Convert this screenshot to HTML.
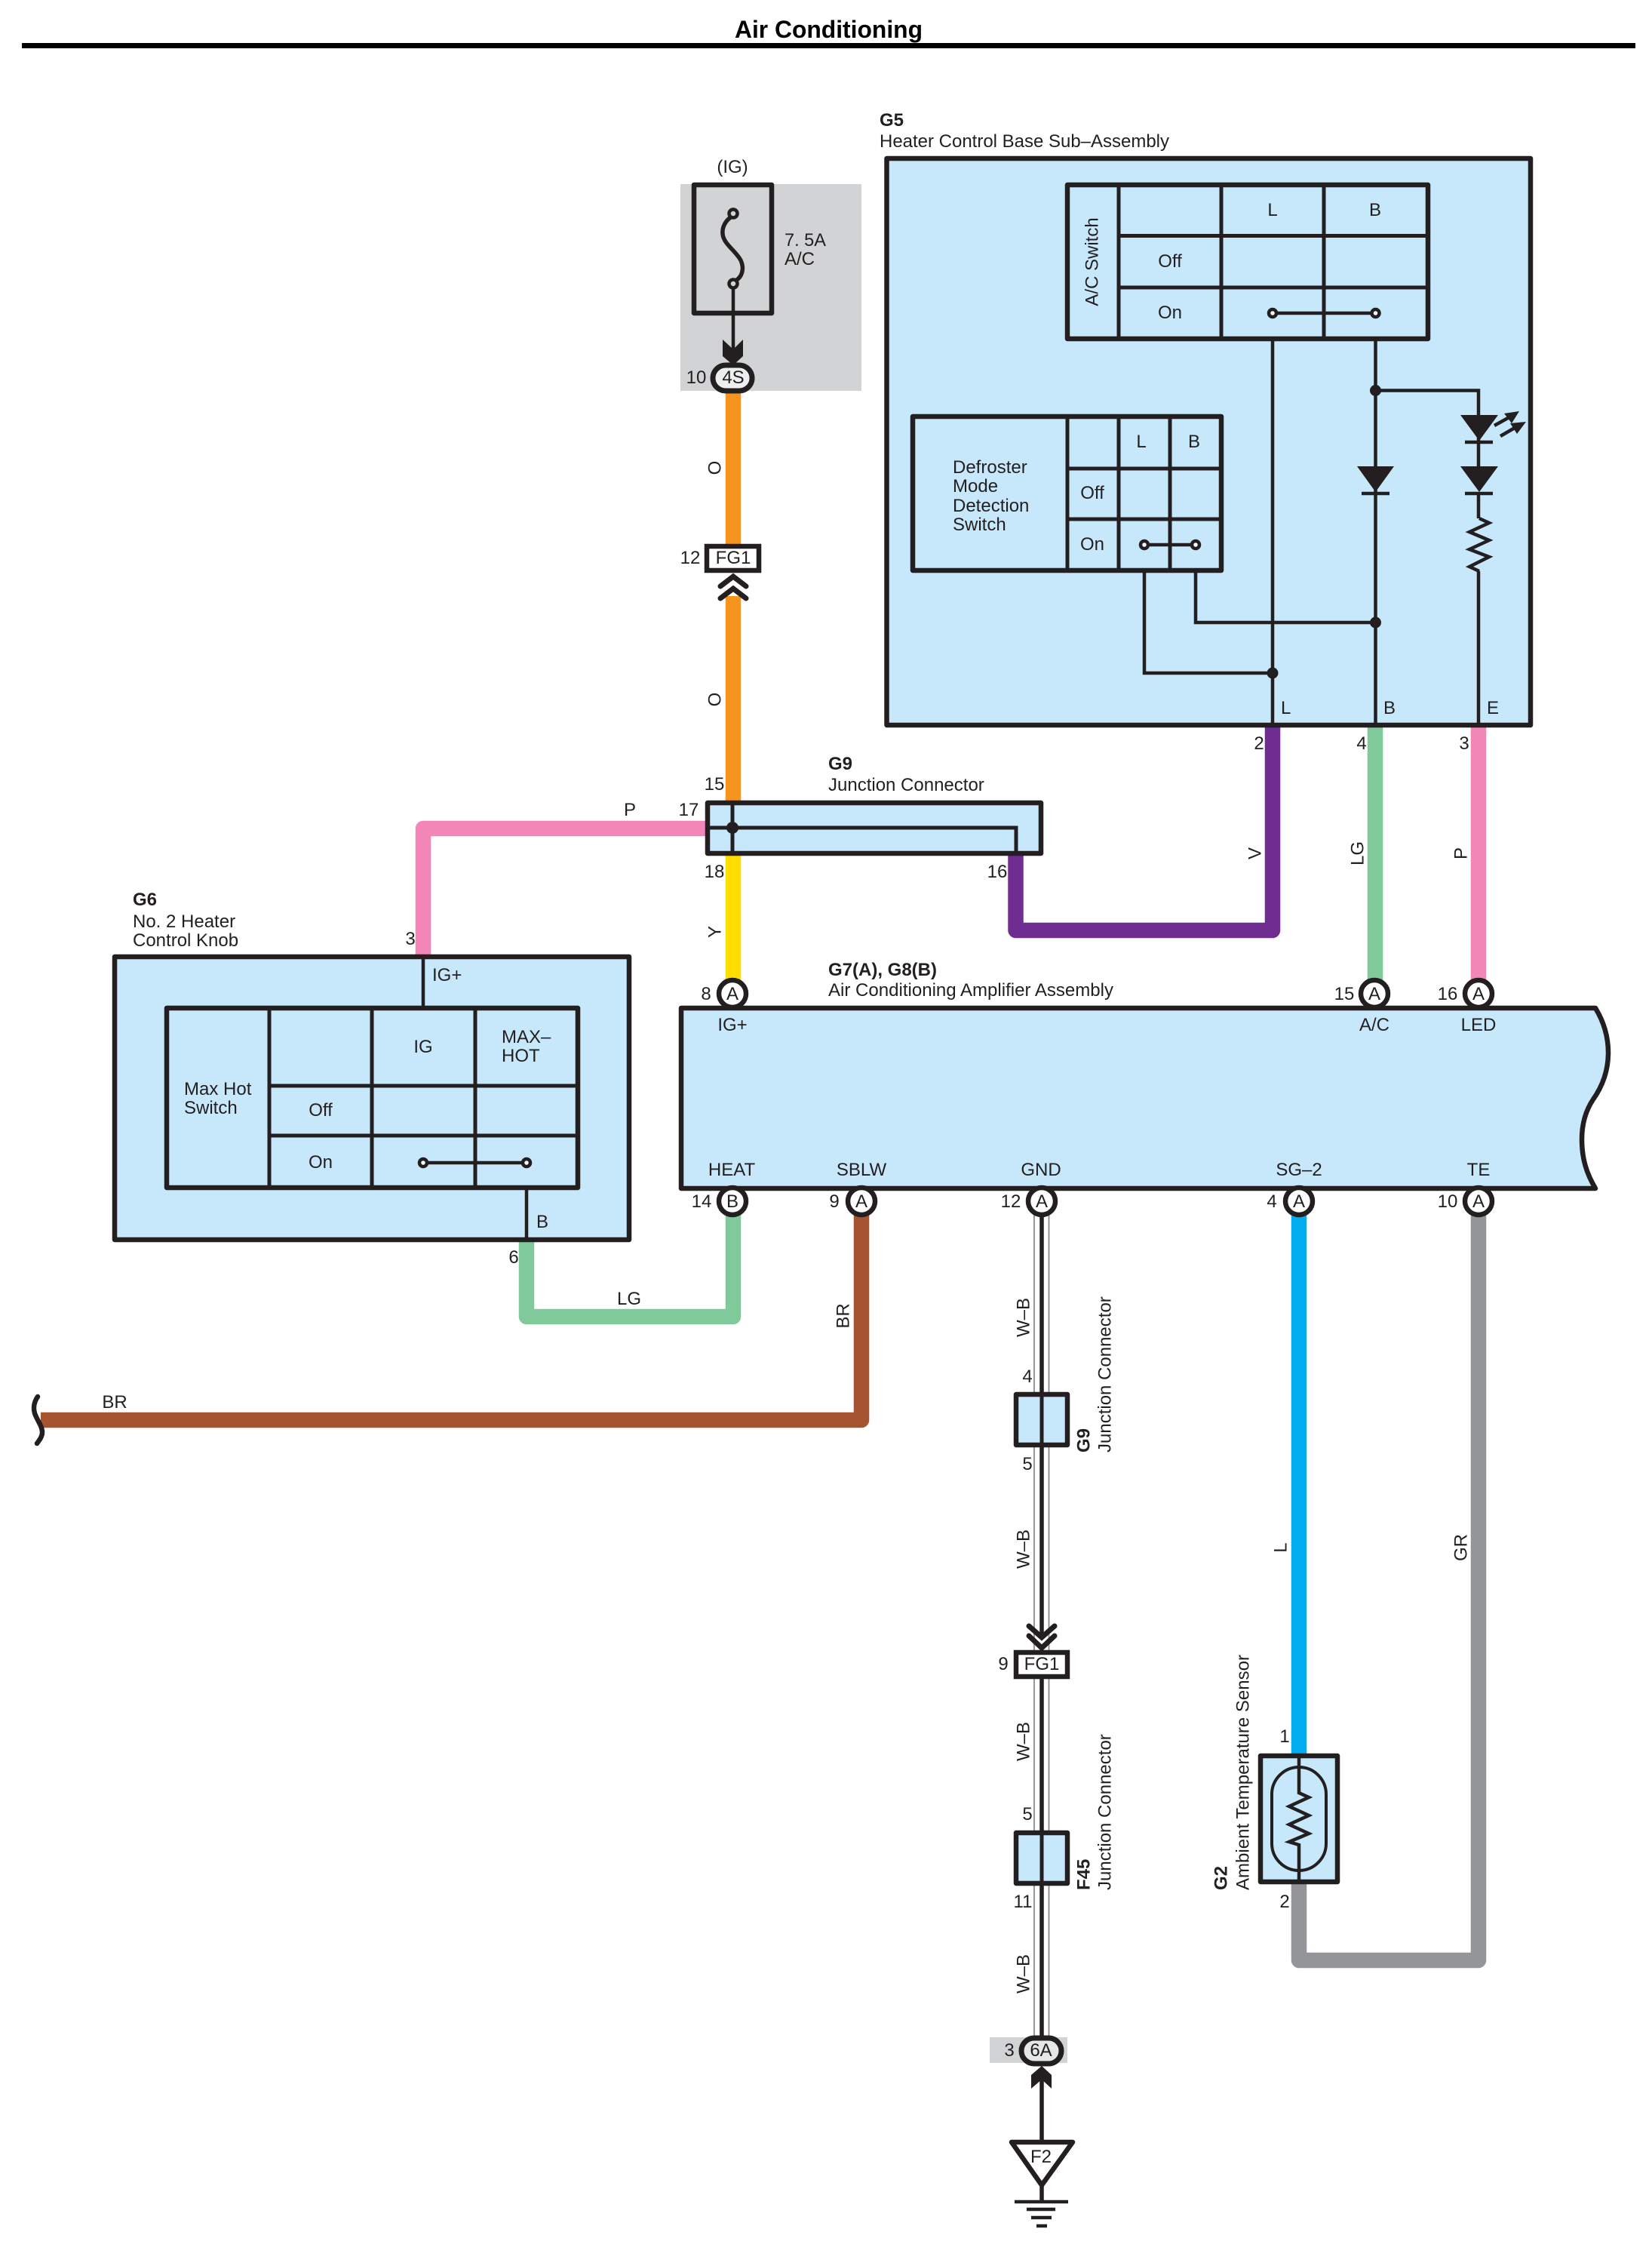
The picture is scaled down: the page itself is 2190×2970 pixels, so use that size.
<!DOCTYPE html>
<html><head><meta charset="utf-8"><title>Air Conditioning</title>
<style>
html,body{margin:0;padding:0;background:#fff}
svg{display:block}
text{font-family:"Liberation Sans",sans-serif;font-size:24px;fill:#231F20}
.b{font-weight:bold}
.m{text-anchor:middle}
.box{fill:#C7E8FB;stroke:#231F20;stroke-width:6.5;stroke-linejoin:round}
.in{fill:none;stroke:#231F20;stroke-width:5}
.th{fill:none;stroke:#231F20;stroke-width:4.5}
.w{fill:none;stroke-width:20.5;stroke-linejoin:round}
.con{fill:#fff;stroke:#231F20;stroke-width:6.5}
.ck{fill:none;stroke:#231F20;stroke-width:7;stroke-linecap:round;stroke-linejoin:miter}
.dot{fill:#231F20}
.sw{fill:#fff;stroke:#231F20;stroke-width:4.5}
</style></head><body>
<svg xmlns="http://www.w3.org/2000/svg" width="2190" height="2970" viewBox="0 0 2190 2970">
<rect width="2190" height="2970" fill="#fff"/>
<!-- title -->
<rect x="29" y="57" width="2139" height="7" fill="#000"/>
<text class="b" x="974" y="50" style="font-size:32px;fill:#000" textLength="249" lengthAdjust="spacingAndGlyphs">Air Conditioning</text>

<!-- fuse area -->
<rect x="902" y="244" width="240" height="274" fill="#D1D3D4"/>

<!-- coloured wires -->
<path class="w" stroke="#F7941E" d="M972 515V722M972 790V1064"/>
<path class="w" stroke="#FFDD00" d="M972 1131V1300"/>
<path class="w" stroke="#F287B7" d="M561 1268V1098H938"/>
<path class="w" stroke="#6F2C91" d="M1346.5 1131V1233H1687V958"/>
<path class="w" stroke="#80C99B" d="M1823 958V1300"/>
<path class="w" stroke="#F287B7" d="M1960 958V1300"/>
<path class="w" stroke="#80C99B" d="M698 1643V1745H972V1610"/>
<path class="w" stroke="#A6542F" d="M1142 1610V1882H54"/>
<path class="w" stroke="#00AEEF" d="M1722 1610V2326"/>
<path class="w" stroke="#939598" d="M1722 2495V2598H1960V1610"/>

<!-- W-B wire -->
<path fill="none" stroke="#8a8c8e" stroke-width="1.8" d="M1371 1610V2700M1390.5 1610V2700"/>
<path fill="none" stroke="#231F20" stroke-width="5.5" d="M1381 1610V2170M1381 2225V2700"/>

<!-- G5 -->
<rect class="box" x="1175.5" y="210" width="853.5" height="751"/>
<rect class="box" x="1415" y="245" width="478" height="204"/>
<path class="in" d="M1483 245V449M1619 245V449M1755 245V449M1483 312.5H1892M1483 381H1892"/>
<rect class="box" x="1210" y="552" width="409" height="204"/>
<path class="in" d="M1415 552V756M1483 552V756M1551 552V756M1415 621H1619M1415 688H1619"/>
<path class="th" d="M1687 415H1823M1517 722H1585"/>
<path class="th" d="M1687 449V961M1823.5 449V961M1823.5 517.5H1960V618M1960 583V618M1960 652V687M1517 756V892H1687M1585 756V825H1823M1960 757V961"/>
<circle class="dot" cx="1823.5" cy="517.5" r="7.5"/>
<circle class="dot" cx="1823.5" cy="825" r="7.5"/>
<circle class="dot" cx="1687" cy="892" r="7.5"/>
<circle class="sw" cx="1687" cy="415" r="5"/><circle class="sw" cx="1823.5" cy="415" r="5"/>
<circle class="sw" cx="1517" cy="722" r="5"/><circle class="sw" cx="1585" cy="722" r="5"/>
<!-- diodes -->
<path class="dot" d="M1799 618H1848L1823.5 652Z"/>
<path fill="none" stroke="#231F20" stroke-width="4.5" d="M1805 654H1842"/>
<path class="dot" d="M1936 550H1986L1961 584Z"/>
<path fill="none" stroke="#231F20" stroke-width="4.5" d="M1942 586H1979"/>
<path class="dot" d="M1936 618H1986L1961 652Z"/>
<path fill="none" stroke="#231F20" stroke-width="4.5" d="M1942 654H1979"/>
<path fill="none" stroke="#231F20" stroke-width="4.5" d="M1961 687L1974 693L1948 705L1974 716L1948 728L1974 738L1948 751L1961 757"/>
<path fill="none" stroke="#231F20" stroke-width="4.5" d="M1981 564L1999 554M1989 578L2008 567"/>
<path class="dot" d="M1994 548L2014 545L2004 561ZM2002 561L2023 559L2011 575Z"/>

<!-- G9 junction -->
<rect class="box" x="938" y="1064" width="442" height="67"/>
<path class="in" d="M971 1064V1131M938 1097H1347V1131"/>
<circle class="dot" cx="971" cy="1097" r="8"/>

<!-- Fuse -->
<rect x="920" y="245" width="103" height="170" fill="none" stroke="#231F20" stroke-width="6.5" stroke-linejoin="round"/>
<path fill="none" stroke="#231F20" stroke-width="5.5" d="M970 287C962 292 957 301 958 310C959 323 975 332 982 345C987 356 984 367 975 372"/>
<circle cx="972" cy="283" r="5.5" fill="#D1D3D4" stroke="#231F20" stroke-width="4.5"/>
<circle cx="972" cy="376" r="5.5" fill="#D1D3D4" stroke="#231F20" stroke-width="4.5"/>
<path class="th" d="M972 382V470"/>
<path class="dot" d="M958 450L972 463L985 450V472L972 484L958 472Z"/>
<rect x="945" y="484" width="52" height="34" rx="17" fill="#EDEEEF" stroke="#231F20" stroke-width="7"/>

<!-- FG1 upper -->
<rect class="con" x="937" y="724" width="69" height="32"/>
<path class="ck" d="M955 777L972 764L989 777M955 793L972 780L989 793"/>

<!-- G6 -->
<rect class="box" x="152" y="1268" width="682" height="375"/>
<rect class="box" x="221" y="1336" width="545" height="238"/>
<path class="in" d="M357 1336V1574M493 1336V1574M630 1336V1574M357 1439H766M357 1505H766"/>
<path class="th" d="M561 1268V1336M698 1574V1643M561 1541H698"/>
<circle class="sw" cx="561" cy="1541" r="5"/><circle class="sw" cx="698" cy="1541" r="5"/>

<!-- Amplifier -->
<path class="box" d="M903 1336H2115C2126 1354 2132 1374 2132 1395C2132 1420 2124 1440 2112 1457C2102 1472 2097 1490 2097 1510C2097 1535 2103 1555 2115 1575H903Z"/>

<!-- Connector circles -->
<circle class="con" cx="971" cy="1317" r="18"/>
<circle class="con" cx="1822" cy="1317" r="18"/>
<circle class="con" cx="1960" cy="1317" r="18"/>
<circle class="con" cx="971" cy="1592" r="18"/>
<circle class="con" cx="1142" cy="1592" r="18"/>
<circle class="con" cx="1381" cy="1592" r="18"/>
<circle class="con" cx="1722" cy="1592" r="18"/>
<circle class="con" cx="1960" cy="1592" r="18"/>

<!-- Break -->
<path fill="none" stroke="#231F20" stroke-width="6.5" stroke-linecap="round" d="M50 1851C45 1858 44 1866 46 1873C49 1882 56 1890 56 1898C56 1904 52 1909 49 1913"/>

<!-- G9 small -->
<rect class="box" x="1347" y="1848" width="68" height="67"/>
<path class="in" d="M1381 1848V1915"/>
<!-- FG1 lower -->
<path class="ck" d="M1364 2155L1381 2170L1398 2155M1364 2168L1381 2184L1398 2168"/>
<rect class="con" x="1347" y="2190" width="68" height="32"/>
<!-- F45 -->
<rect class="box" x="1347" y="2429" width="68" height="67"/>
<path class="in" d="M1381 2429V2496"/>
<!-- 6A -->
<rect x="1312" y="2700" width="103" height="34" fill="#D1D3D4"/>
<rect x="1354" y="2701" width="53" height="34" rx="17" fill="#E6E7E8" stroke="#231F20" stroke-width="7"/>
<path class="dot" d="M1381 2738L1394 2750V2768L1381 2756L1367 2768V2750Z"/>
<path fill="none" stroke="#231F20" stroke-width="5.5" d="M1381 2756V2840M1381 2895V2917"/>
<path fill="#fff" stroke="#231F20" stroke-width="6.5" stroke-linejoin="round" d="M1341 2839H1422L1381 2896Z"/>
<path fill="none" stroke="#231F20" stroke-width="4.5" d="M1345 2918H1416M1361 2928H1399M1367 2939H1394M1374 2950H1388"/>

<!-- G2 -->
<rect class="box" x="1671" y="2327" width="102" height="167"/>
<rect x="1686" y="2342" width="72" height="137" rx="36" fill="none" stroke="#231F20" stroke-width="4"/>
<path fill="none" stroke="#231F20" stroke-width="4.5" d="M1722 2327V2376L1735 2382L1709 2394L1735 2406L1709 2418L1735 2430L1709 2441L1722 2445V2494"/>

<!-- Labels: G5 -->
<text class="b" x="1166" y="167">G5</text>
<text x="1166" y="195" textLength="384" lengthAdjust="spacingAndGlyphs">Heater Control Base Sub–Assembly</text>
<text class="m" x="1455.6" y="347" transform="rotate(-90 1455.6 347)">A/C Switch</text>
<text class="m" x="1687" y="286">L</text><text class="m" x="1823" y="286">B</text>
<text class="m" x="1551" y="354">Off</text><text class="m" x="1551" y="422">On</text>
<text x="1263" y="627">Defroster</text><text x="1263" y="652">Mode</text><text x="1263" y="678">Detection</text><text x="1263" y="703">Switch</text>
<text class="m" x="1513" y="593">L</text><text class="m" x="1583" y="593">B</text>
<text class="m" x="1448" y="661">Off</text><text class="m" x="1448" y="729">On</text>
<text x="1698" y="946">L</text><text x="1834" y="946">B</text><text x="1971" y="946">E</text>
<text class="m" x="1669" y="993">2</text><text class="m" x="1805" y="993">4</text><text class="m" x="1941" y="993">3</text>

<!-- fuse labels -->
<text class="m" x="971" y="229">(IG)</text>
<text x="1040" y="326" textLength="55" lengthAdjust="spacingAndGlyphs">7. 5A</text>
<text x="1040" y="351">A/C</text>
<text class="m" x="972" y="508">4S</text>
<text class="m" x="923" y="508">10</text>
<text class="m" x="955.6" y="620" transform="rotate(-90 955.6 620)">O</text>
<text class="m" x="972" y="747">FG1</text>
<text class="m" x="915" y="747">12</text>
<text class="m" x="955.6" y="927" transform="rotate(-90 955.6 927)">O</text>

<!-- G9 labels -->
<text class="b" x="1098" y="1020">G9</text>
<text x="1098" y="1048">Junction Connector</text>
<text class="m" x="947" y="1047">15</text>
<text class="m" x="913" y="1081">17</text>
<text class="m" x="947" y="1163">18</text>
<text class="m" x="1322" y="1163">16</text>
<text class="m" x="835" y="1081">P</text>
<text class="m" x="955.6" y="1235" transform="rotate(-90 955.6 1235)">Y</text>
<text class="m" x="1671.6" y="1131" transform="rotate(-90 1671.6 1131)">V</text>
<text class="m" x="1807.6" y="1131" transform="rotate(-90 1807.6 1131)">LG</text>
<text class="m" x="1944.6" y="1131" transform="rotate(-90 1944.6 1131)">P</text>

<!-- G6 labels -->
<text class="b" x="176" y="1200">G6</text>
<text x="176" y="1229">No. 2 Heater</text>
<text x="176" y="1254">Control Knob</text>
<text class="m" x="544" y="1252">3</text>
<text x="573" y="1300">IG+</text>
<text class="m" x="561" y="1395">IG</text>
<text x="665" y="1382">MAX–</text><text x="665" y="1407">HOT</text>
<text x="244" y="1451">Max Hot</text><text x="244" y="1476">Switch</text>
<text class="m" x="425" y="1479">Off</text><text class="m" x="425" y="1548">On</text>
<text x="711" y="1627">B</text>
<text class="m" x="681" y="1674">6</text>
<text class="m" x="834" y="1729">LG</text>

<!-- Amp labels -->
<text class="b" x="1098" y="1293">G7(A), G8(B)</text>
<text x="1098" y="1320" textLength="378" lengthAdjust="spacingAndGlyphs">Air Conditioning Amplifier Assembly</text>
<text class="m" x="936" y="1325">8</text><text class="m" x="971" y="1325">A</text>
<text class="m" x="1782" y="1325">15</text><text class="m" x="1822" y="1325">A</text>
<text class="m" x="1919" y="1325">16</text><text class="m" x="1960" y="1325">A</text>
<text class="m" x="971" y="1366">IG+</text>
<text class="m" x="1822" y="1366">A/C</text>
<text class="m" x="1960" y="1366">LED</text>
<text class="m" x="970" y="1558">HEAT</text>
<text class="m" x="1142" y="1558">SBLW</text>
<text class="m" x="1380" y="1558">GND</text>
<text class="m" x="1722" y="1558">SG–2</text>
<text class="m" x="1960" y="1558">TE</text>
<text class="m" x="930" y="1600">14</text><text class="m" x="971" y="1600">B</text>
<text class="m" x="1106" y="1600">9</text><text class="m" x="1142" y="1600">A</text>
<text class="m" x="1340" y="1600">12</text><text class="m" x="1381" y="1600">A</text>
<text class="m" x="1686" y="1600">4</text><text class="m" x="1722" y="1600">A</text>
<text class="m" x="1919" y="1600">10</text><text class="m" x="1960" y="1600">A</text>

<!-- BR -->
<text class="m" x="152" y="1866">BR</text>
<text class="m" x="1125.6" y="1744" transform="rotate(-90 1125.6 1744)">BR</text>

<!-- W-B column -->
<text class="m" x="1364.6" y="1746" transform="rotate(-90 1364.6 1746)">W–B</text>
<text class="m" x="1362" y="1832">4</text>
<text class="m" x="1362" y="1948">5</text>
<text class="b" x="1444.6" y="1925" transform="rotate(-90 1444.6 1925)">G9</text>
<text x="1472.6" y="1925" transform="rotate(-90 1472.6 1925)">Junction Connector</text>
<text class="m" x="1364.6" y="2053" transform="rotate(-90 1364.6 2053)">W–B</text>
<text class="m" x="1330" y="2213">9</text>
<text class="m" x="1381" y="2213">FG1</text>
<text class="m" x="1364.6" y="2308" transform="rotate(-90 1364.6 2308)">W–B</text>
<text class="m" x="1362" y="2412">5</text>
<text class="m" x="1356" y="2528">11</text>
<text class="b" x="1444.6" y="2505" transform="rotate(-90 1444.6 2505)">F45</text>
<text x="1472.6" y="2505" transform="rotate(-90 1472.6 2505)">Junction Connector</text>
<text class="m" x="1364.6" y="2616" transform="rotate(-90 1364.6 2616)">W–B</text>
<text class="m" x="1338" y="2725">3</text>
<text class="m" x="1380" y="2725">6A</text>
<text class="m" x="1380" y="2866">F2</text>

<!-- G2 labels -->
<text class="m" x="1705.6" y="2051" transform="rotate(-90 1705.6 2051)">L</text>
<text class="m" x="1944.6" y="2051" transform="rotate(-90 1944.6 2051)">GR</text>
<text class="m" x="1703" y="2309">1</text>
<text class="m" x="1703" y="2528">2</text>
<text class="b" x="1626.6" y="2505" transform="rotate(-90 1626.6 2505)">G2</text>
<text x="1655.6" y="2505" transform="rotate(-90 1655.6 2505)" textLength="312" lengthAdjust="spacingAndGlyphs">Ambient Temperature Sensor</text>
</svg>
</body></html>
